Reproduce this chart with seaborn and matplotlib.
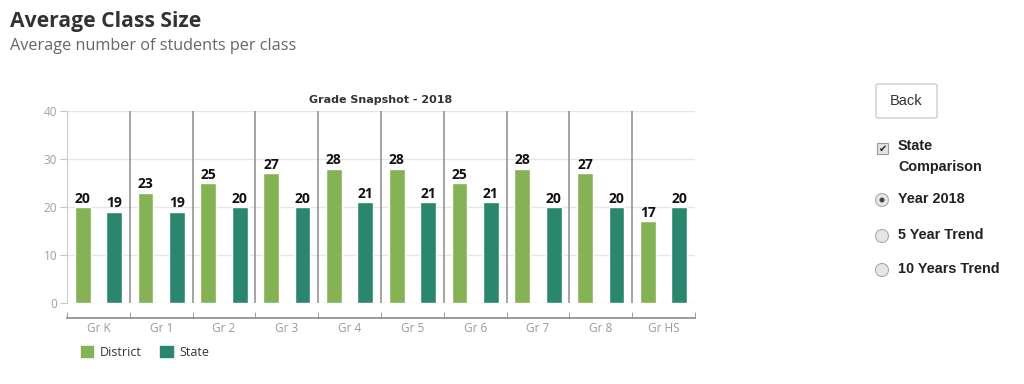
import pandas as pd
import matplotlib.pyplot as plt
import seaborn as sns
from matplotlib.patches import FancyBboxPatch, Rectangle, Ellipse

# Chart data
grades = ["Gr K", "Gr 1", "Gr 2", "Gr 3", "Gr 4", "Gr 5", "Gr 6", "Gr 7", "Gr 8", "Gr HS"]
district = [20, 23, 25, 27, 28, 28, 25, 28, 27, 17]
state = [19, 19, 20, 20, 21, 21, 21, 20, 20, 20]
series = ["District", "State"]
colors = ["#84b254", "#2a866d"]

df = pd.DataFrame({
    "grade": grades * 2,
    "value": district + state,
    "series": ["District"] * len(grades) + ["State"] * len(grades),
})

sns.set_style("white")
plt.rcParams["font.family"] = ["Open Sans", "DejaVu Sans"]

W, H = 1024, 384
fig = plt.figure(figsize=(10.24, 3.84), dpi=100)
ax = fig.add_axes([67 / W, 1 - 303 / H, 628 / W, 192 / H])

sns.barplot(data=df, x="grade", y="value", hue="series", hue_order=series,
            palette=colors, width=1.0, gap=0.5, ax=ax, legend=False,
            saturation=1, errorbar=None)

for cont in ax.containers:
    ax.bar_label(cont, fontsize=10, fontweight="bold", color="#111111", padding=1)

ax.set_xlim(-0.5, len(grades) - 0.5)
ax.set_ylim(0, 40)
ax.set_yticks([0, 10, 20, 30, 40])
ax.yaxis.grid(True, color="#e6e6e6", linewidth=1)
ax.set_axisbelow(True)
for i in range(len(grades) - 1):
    ax.axvline(i + 0.5, color="#8c8c8c", linewidth=1.1, zorder=1)

ax.set_xlabel("")
ax.set_ylabel("")
ax.tick_params(axis="y", labelsize=8.5, labelcolor="#a0a0a0", length=5, color="#c8c8c8",
               left=True, pad=2)
ax.set_xticks(range(len(grades)), grades)
ax.tick_params(axis="x", labelsize=8.5, labelcolor="#9a9a9a", length=0, pad=3)
ax.set_xticks([i - 0.5 for i in range(len(grades) + 1)], minor=True)
ax.tick_params(axis="x", which="minor", direction="in", length=4, color="#8c8c8c",
               bottom=True)

for s in ["top", "right"]:
    ax.spines[s].set_visible(False)
ax.spines["left"].set_color("#cccccc")
ax.spines["bottom"].set_color("#8c8c8c")
ax.spines["bottom"].set_linewidth(1.2)
ax.spines["bottom"].set_position(("outward", 10.8))

ax.set_title("Grade Snapshot - 2018", fontsize=8, fontweight="bold", color="#333333",
             family=["DejaVu Sans"], pad=6)

# Legend
handles = [Rectangle((0, 0), 1, 1, color=c) for c in colors]
fig.legend(handles, series, loc="center left", bbox_to_anchor=(0.068, 0.083), ncol=2,
           frameon=False, fontsize=9, handlelength=1.0, handleheight=1.0,
           handletextpad=0.5, columnspacing=1.5, labelcolor="#333333")

# Headings
fig.text(10 / W, 1 - 21 / H, "Average Class Size", fontsize=15.2, fontweight="bold",
         color="#333333", va="center")
fig.text(10 / W, 1 - 46 / H, "Average number of students per class", fontsize=11.7,
         color="#666666", va="center")

# Right side controls
btn = FancyBboxPatch((876 / W, 1 - 118 / H), 61 / W, 34 / H,
                     boxstyle="round,pad=0,rounding_size=0.004",
                     transform=fig.transFigure, facecolor="white",
                     edgecolor="#cccccc", linewidth=1)
fig.add_artist(btn)
fig.text(906 / W, 1 - 101 / H, "Back", fontsize=10.5, color="#333333",
         ha="center", va="center", family=["Liberation Sans"])

fig.add_artist(Rectangle((877 / W, 1 - 154 / H), 11 / W, 11 / H,
                         transform=fig.transFigure, facecolor="#e4e4e4",
                         edgecolor="#9a9a9a", linewidth=0.8))
fig.text(882.5 / W, 1 - 148.5 / H, "✔", fontsize=7, color="#222222",
         ha="center", va="center", family=["DejaVu Sans"])

opts = [(146, "State"), (167, "Comparison"), (199, "Year 2018"),
        (235, "5 Year Trend"), (269, "10 Years Trend")]
for yy, txt in opts:
    fig.text(898 / W, 1 - yy / H, txt, fontsize=10.4, fontweight="bold", color="#222222",
             va="center", family=["Liberation Sans"])

for yy in [200, 236, 270]:
    fig.add_artist(Ellipse((882 / W, 1 - yy / H), 13 / W, 13 / H,
                           transform=fig.transFigure, facecolor="#e6e6e6",
                           edgecolor="#aaaaaa", linewidth=0.8))
fig.add_artist(Ellipse((882 / W, 1 - 200 / H), 5 / W, 5 / H,
                       transform=fig.transFigure, facecolor="#444444",
                       edgecolor="none"))

fig.savefig("out.png", dpi=100)
